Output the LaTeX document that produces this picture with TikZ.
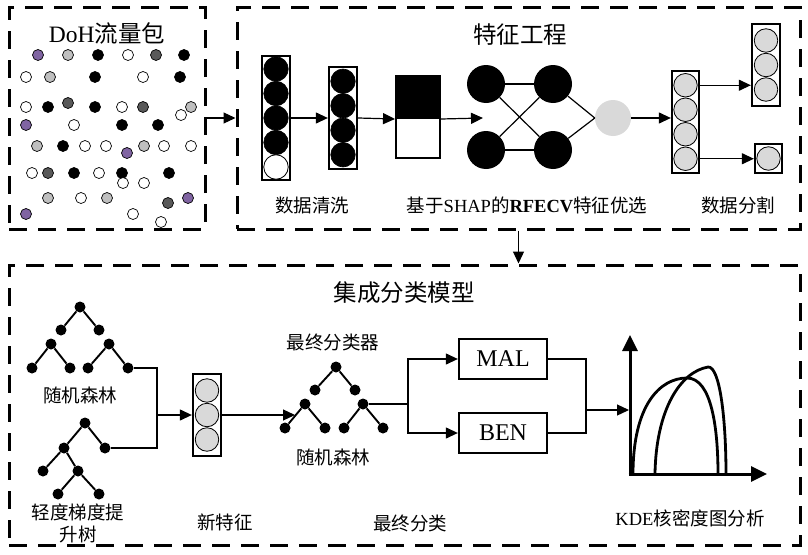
\documentclass[tikz,border=0pt]{standalone}
\usepackage{fontspec}
\setmainfont{Liberation Serif}
\newfontfamily\cjk{Noto Sans CJK SC}
\usetikzlibrary{arrows.meta,calc}
\definecolor{pur}{HTML}{8064A2}
\definecolor{lgr}{HTML}{BFBFBF}
\definecolor{dgr}{HTML}{595959}
\definecolor{cgr}{HTML}{D9D9D9}
\begin{document}
\begin{tikzpicture}[x=1pt,y=-1pt,
  dbox/.style={draw, line width=3pt, dash pattern=on 18pt off 11pt, inner sep=0pt},
  colbox/.style={draw, line width=2.3pt, inner sep=0pt},
  bc/.style={circle, draw, fill=black, line width=0.6pt, minimum size=24.5pt, inner sep=0pt},
  wc/.style={circle, draw, fill=white, line width=0.8pt, minimum size=24.5pt, inner sep=0pt},
  gc/.style={circle, draw, fill=cgr, line width=0.8pt, minimum size=23.5pt, inner sep=0pt},
  nn/.style={circle, fill=black, minimum size=38pt, inner sep=0pt},
  pdot/.style={circle, draw, line width=0.7pt, minimum size=11pt, inner sep=0pt, fill=#1},
  tn/.style={circle, fill=black, minimum size=11pt, inner sep=0pt},
  tl/.style={line width=1.9pt},
  arr/.style={line width=1.2pt, -{Triangle[length=12pt,width=11pt]}},
  ln/.style={line width=1.2pt},
  ttl/.style={font=\cjk\fontsize{23.5}{26}\selectfont, inner sep=0pt},
  lbl/.style={font=\cjk\fontsize{18.5}{21}\selectfont, inner sep=0pt, align=center},
  cls/.style={draw, line width=2.3pt, minimum width=88pt, minimum height=40pt, inner sep=0pt, font=\fontsize{24}{26}\selectfont},
  axis/.style={line width=3pt, -{Triangle[length=16pt,width=15pt]}},
  kde/.style={line width=2.8pt}
]
\useasboundingbox (0,0) rectangle (808,554);

% ---------- dashed boxes ----------
\node[dbox, minimum width=196pt, minimum height=222pt] (box1) at (107,118) {};
\node[dbox, minimum width=563pt, minimum height=222pt] (box2) at (518.5,118) {};
\node[dbox, minimum width=791pt, minimum height=280pt] (box3) at (404.5,405) {};
\draw[arr] (box1.east) -- (box2.west);
\draw[arr] (box2.south) -- (box2.south |- box3.north);

% titles
\node[ttl] (t1) at (107,33) {\rmfamily DoH\cjk 流量包};
\node[ttl] (t2) at (520,35) {特征工程};
\node[ttl] (t3) at (404,293) {集成分类模型};

% ---------- packets ----------
\foreach \x/\y [count=\i] in {38/55,26/125,127/153,188/198,26/214}
  \node[pdot=pur] (pp\i) at (\x,\y) {};
\foreach \x/\y [count=\i] in {68/55,50/77,191/107,37/146,144/146,48/198,107/198}
  \node[pdot=lgr] (pg\i) at (\x,\y) {};
\foreach \x/\y [count=\i] in {156/55,68/103,143/107,48/173,168/203}
  \node[pdot=dgr] (pd\i) at (\x,\y) {};
\foreach \x/\y [count=\i] in {98/55,184/55,95/77,180/77,48/107,95/107,122/125,158/125,63/146,74/173,122/173,169/173}
  \node[pdot=black] (pb\i) at (\x,\y) {};
\foreach \x/\y [count=\i] in {128/55,26/77,143/77,26/107,122/107,181/115,74/125,85/146,106/146,164/146,191/146,32/173,99/173,123/183,144/183,81/198,133/214,161/222}
  \node[pdot=white] (pw\i) at (\x,\y) {};

% ---------- feature engineering ----------
\node[colbox, minimum width=28.5pt, minimum height=124pt] (c1) at (276,118) {};
\foreach \y [count=\i] in {69,93.5,118,142.5}
  \node[bc] (c1n\i) at (276,\y) {};
\node[wc] (c1n5) at (276,167) {};

\node[colbox, minimum width=28pt, minimum height=102pt] (c2) at (343,118) {};
\foreach \y [count=\i] in {81.25,105.75,130.25,154.75}
  \node[bc] (c2n\i) at (343,\y) {};

\node[draw, line width=2pt, fill=black, minimum width=44pt, minimum height=42pt, inner sep=0pt] (sqa) at (418,97) {};
\node[draw, line width=2pt, fill=white, minimum width=44pt, minimum height=40pt, inner sep=0pt] (sqb) at (418,138) {};

\draw[arr] (c1.east) -- (c2.west);
\draw[arr] (c2.east) -- (sqa.south west);
\coordinate (nnin) at (483,118);
\draw[arr] (sqa.south east) -- (nnin);

\node[nn] (l1) at (486,84) {};
\node[nn] (l2) at (486,150) {};
\node[nn] (r1) at (553,84) {};
\node[nn] (r2) at (553,150) {};
\node[circle, fill=cgr, minimum size=36pt, inner sep=0pt] (g) at (613,118) {};
\draw[ln] (l1) -- (r1);
\draw[ln] (l2) -- (r2);
\draw[ln] (l1) -- (r2);
\draw[ln] (l2) -- (r1);
\draw[ln] (r1) -- (g.west);
\draw[ln] (r2) -- (g.west);

\node[colbox, minimum width=27pt, minimum height=102pt] (c3) at (685.5,122) {};
\foreach \y [count=\i] in {85.25,109.75,134.25,158.75}
  \node[gc] (c3n\i) at (685.5,\y) {};
\draw[arr] (g.east) -- (g.east -| c3.west);

\node[colbox, minimum width=28pt, minimum height=82pt] (c4) at (766,65) {};
\foreach \y [count=\i] in {40.5,65,89.5}
  \node[gc] (c4n\i) at (766,\y) {};
\node[colbox, minimum width=27pt, minimum height=29pt] (c5) at (768.5,158.5) {};
\node[gc] (c5n1) at (768.5,158.5) {};
\draw[arr] (c3n1 -| c3.east) -- (c3n1 -| c4.west);
\draw[arr] (c3n4 -| c3.east) -- (c3n4 -| c5.west);

\node[lbl] (la1) at (312,205) {数据清洗};
\node[lbl] (la2) at (527,205) {基于{\rmfamily SHAP}的{\rmfamily\bfseries RFECV}特征优选};
\node[lbl] (la3) at (738,205) {数据分割};

% ---------- ensemble model ----------
% random forest tree
\foreach \n/\x/\y in {t1r/80/307,t1a/61/330,t1b/99/330,t1c/51/344,t1d/109/344,t1e/32/368,t1f/70/368,t1g/88/368,t1h/128/368}
  \node[tn] (\n) at (\x,\y) {};
\draw[tl] (t1a) -- (t1r) -- (t1b);
\draw[tl] (t1e) -- (t1c) -- (t1f);
\draw[tl] (t1g) -- (t1d) -- (t1h);
\node[lbl] (la4) at (80,395) {随机森林};

% LightGBM tree
\foreach \n/\x/\y in {gr/85/423,ga/64/448,gb/105/448,gcn/43/471,gd/78/471,ge/58/494,gf/99/494}
  \node[tn] (\n) at (\x,\y) {};
\draw[tl] (ga) -- (gr) -- (gb);
\draw[tl] (gcn) -- (ga) -- (gd);
\draw[tl] (ge) -- (gd) -- (gf);
\node[lbl] (la5) at (78,512) {轻度梯度提};
\node[lbl] (la6) at (78,534) {升树};

% new features
\node[colbox, minimum width=28pt, minimum height=82pt] (nf) at (207,415) {};
\foreach \y [count=\i] in {390.5,415,439.5}
  \node[gc] (nf\i) at (207,\y) {};
\coordinate (j1) at (157,415);
\draw[ln] (t1h) -| (j1);
\draw[ln] (gb) -| (j1);
\draw[arr] (j1) -- (nf.west);
\node[lbl] (la7) at (225,522) {新特征};

% final classifier tree
\foreach \n/\x/\y in {fr/336/367,fa/315/390,fb/355/390,fc/305/404,fd/363/404,fe/285/428,ff/325/428,fg/344/428,fh/383/428}
  \node[tn] (\n) at (\x,\y) {};
\draw[tl] (fa) -- (fr) -- (fb);
\draw[tl] (fe) -- (fc) -- (ff);
\draw[tl] (fg) -- (fd) -- (fh);
\coordinate (ftin) at (295,415);
\draw[arr] (nf.east) -- (ftin);
\node[lbl] (la8) at (333,342) {最终分类器};
\node[lbl] (la9) at (333,457) {随机森林};

% MAL / BEN
\node[cls] (mal) at (503,359) {MAL};
\node[cls] (ben) at (503,433) {BEN};
\coordinate (sp) at (408,404);
\draw[ln] (fd) -- (sp);
\draw[arr] (sp) |- (mal.west);
\draw[arr] (sp) |- (ben.west);
\coordinate (jn) at (586,410);
\draw[ln] (mal.east) -| (jn);
\draw[ln] (ben.east) -| (jn);
\coordinate (kin) at (629,410);
\draw[arr] (jn) -- (kin);
\node[lbl] (la10) at (410,523) {最终分类};

% KDE plot
\coordinate (o) at (630,474);
\coordinate (ytop) at (630,335);
\coordinate (xend) at (767,474);
\draw[kde] (633,474) .. controls (633,405) and (660,378) .. (687,378) .. controls (712,378) and (718,430) .. (718,474);
\draw[kde] (655,474) .. controls (656,410) and (680,372) .. (708,367) .. controls (720,366) and (726,420) .. (726,474);
\draw[axis] (o) -- (ytop);
\draw[axis] ([xshift=-1.5pt]o) -- (xend);
\node[lbl] (la11) at (690,518) {{\rmfamily KDE}核密度图分析};
\end{tikzpicture}
\end{document}
